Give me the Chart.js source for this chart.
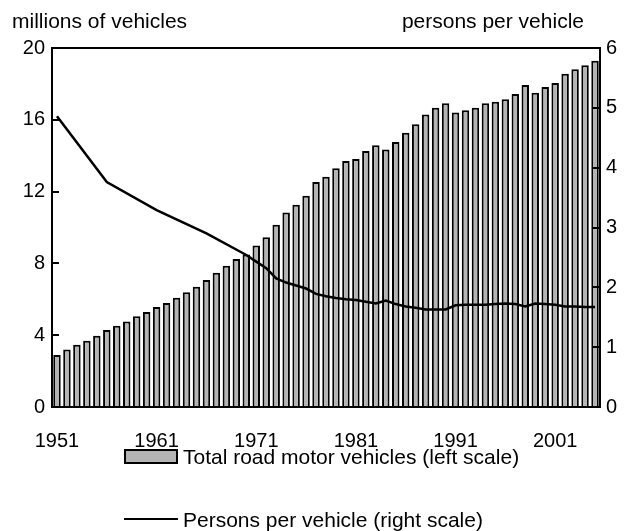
<!DOCTYPE html>
<html>
<head>
<meta charset="utf-8">
<script src="https://cdn.jsdelivr.net/npm/chart.js@4.4.1/dist/chart.umd.min.js"></script>
<style>
  html, body { margin: 0; padding: 0; background: #fff; }
  #wrap { position: relative; width: 629px; height: 531px; font-family: "Liberation Sans", Arial, sans-serif; color: #000; }
  #c { position: absolute; left: 0; top: 0; }
  .t { position: absolute; font-size: 21px; line-height: 21px; white-space: nowrap; }
  .sw { position: absolute; box-sizing: border-box; }
</style>
</head>
<body>
<div id="wrap">
  <canvas id="c" width="629" height="531"></canvas>
  <div class="t" style="left:12px; top:10px;">millions of vehicles</div>
  <div class="t" style="right:45px; top:10px;">persons per vehicle</div>
  <div class="sw" style="left:124px; top:449px; width:54px; height:15px; background:#b4b4b4; border:2px solid #000;"></div>
  <div class="t" style="left:183px; top:446px;">Total road motor vehicles (left scale)</div>
  <div class="sw" style="left:124px; top:518px; width:54px; height:2px; background:#000;"></div>
  <div class="t" style="left:183px; top:509px;">Persons per vehicle (right scale)</div>
</div>
<script>
// Years (categories)
const years = [];
for (let y = 1951; y <= 2005; y++) years.push(String(y));

// Total road motor vehicles, millions (left scale)
const vehicles = [
  2.90, 3.21, 3.47, 3.69, 3.97, 4.29, 4.53, 4.77, 5.05, 5.29,
  5.57, 5.80, 6.08, 6.39, 6.70, 7.08, 7.48, 7.87, 8.25, 8.50,
  9.00, 9.45, 10.16, 10.83, 11.27, 11.77, 12.53, 12.83, 13.30, 13.70,
  13.82, 14.26, 14.58, 14.35, 14.76, 15.28, 15.75, 16.29, 16.67, 16.92,
  16.40, 16.53, 16.67, 16.92, 17.01, 17.14, 17.44, 17.94, 17.51, 17.83,
  18.05, 18.57, 18.81, 19.04, 19.29
];

// Persons per vehicle (right scale); null = no reading (line spans gap)
const persons = [
  4.86, null, null, null, null, 3.76, null, null, null, null,
  3.29, null, null, null, null, 2.90, null, null, null, 2.54,
  2.43, 2.32, 2.15, 2.08, 2.03, 1.98, 1.89, 1.85, 1.82, 1.80,
  1.79, 1.76, 1.73, 1.78, 1.72, 1.68, 1.66, 1.63, 1.63, 1.63,
  1.70, 1.71, 1.71, 1.71, 1.72, 1.73, 1.72, 1.68, 1.73, 1.72,
  1.71, 1.68, 1.68, 1.67, 1.67
];

const leftTicks = [0, 4, 8, 12, 16, 20];
const rightTicks = [0, 1, 2, 3, 4, 5, 6];

const FONT = { family: '"Liberation Sans", Arial, sans-serif', size: 20 };

const framePlugin = {
  id: 'frame',
  afterDatasetsDraw(chart) {
    const { ctx, chartArea: a, scales } = chart;
    ctx.save();
    ctx.strokeStyle = '#000';
    ctx.lineWidth = 2;
    ctx.strokeRect(a.left, a.top, a.right - a.left, a.bottom - a.top);
    ctx.beginPath();
    leftTicks.forEach(v => {
      const y = Math.round(scales.y.getPixelForValue(v));
      ctx.moveTo(a.left, y); ctx.lineTo(a.left + 7, y);
    });
    rightTicks.forEach(v => {
      const y = Math.round(scales.y1.getPixelForValue(v));
      ctx.moveTo(a.right, y); ctx.lineTo(a.right - 7, y);
    });
    ctx.stroke();
    ctx.restore();
  }
};

new Chart(document.getElementById('c'), {
  data: {
    labels: years,
    datasets: [
      {
        type: 'line',
        label: 'Persons per vehicle (right scale)',
        data: persons,
        yAxisID: 'y1',
        borderColor: '#000',
        borderWidth: 2.5,
        pointRadius: 0,
        tension: 0,
        spanGaps: true,
        order: 0
      },
      {
        type: 'bar',
        label: 'Total road motor vehicles (left scale)',
        data: vehicles,
        yAxisID: 'y',
        backgroundColor: '#b4b4b4',
        borderColor: '#000',
        borderWidth: 2,
        borderSkipped: 'bottom',
        barPercentage: 0.75,
        categoryPercentage: 1.0,
        order: 1
      }
    ]
  },
  options: {
    responsive: false,
    animation: false,
    devicePixelRatio: 1,
    layout: { padding: { top: 48, left: 0, right: 0, bottom: 0 } },
    plugins: { legend: { display: false }, tooltip: { enabled: false } },
    scales: {
      x: {
        type: 'category',
        offset: true,
        grid: { display: false, drawTicks: false },
        border: { display: false },
        ticks: {
          autoSkip: false, maxRotation: 0, minRotation: 0,
          color: '#000', font: FONT, padding: 22,
          callback: function (val, i) {
            const y = years[i];
            return (Number(y) - 1951) % 10 === 0 ? y : '';
          }
        },
        afterFit(s) { s.height = 124; }
      },
      y: {
        position: 'left',
        min: 0, max: 20,
        grid: { display: false, drawTicks: false },
        border: { display: false },
        ticks: { stepSize: 4, color: '#000', font: FONT, padding: 7 },
        afterFit(s) { s.width = 52; }
      },
      y1: {
        position: 'right',
        min: 0, max: 6,
        grid: { display: false, drawTicks: false },
        border: { display: false },
        ticks: { stepSize: 1, color: '#000', font: FONT, padding: 6 },
        afterFit(s) { s.width = 29; }
      }
    }
  },
  plugins: [framePlugin]
});
</script>
</body>
</html>
